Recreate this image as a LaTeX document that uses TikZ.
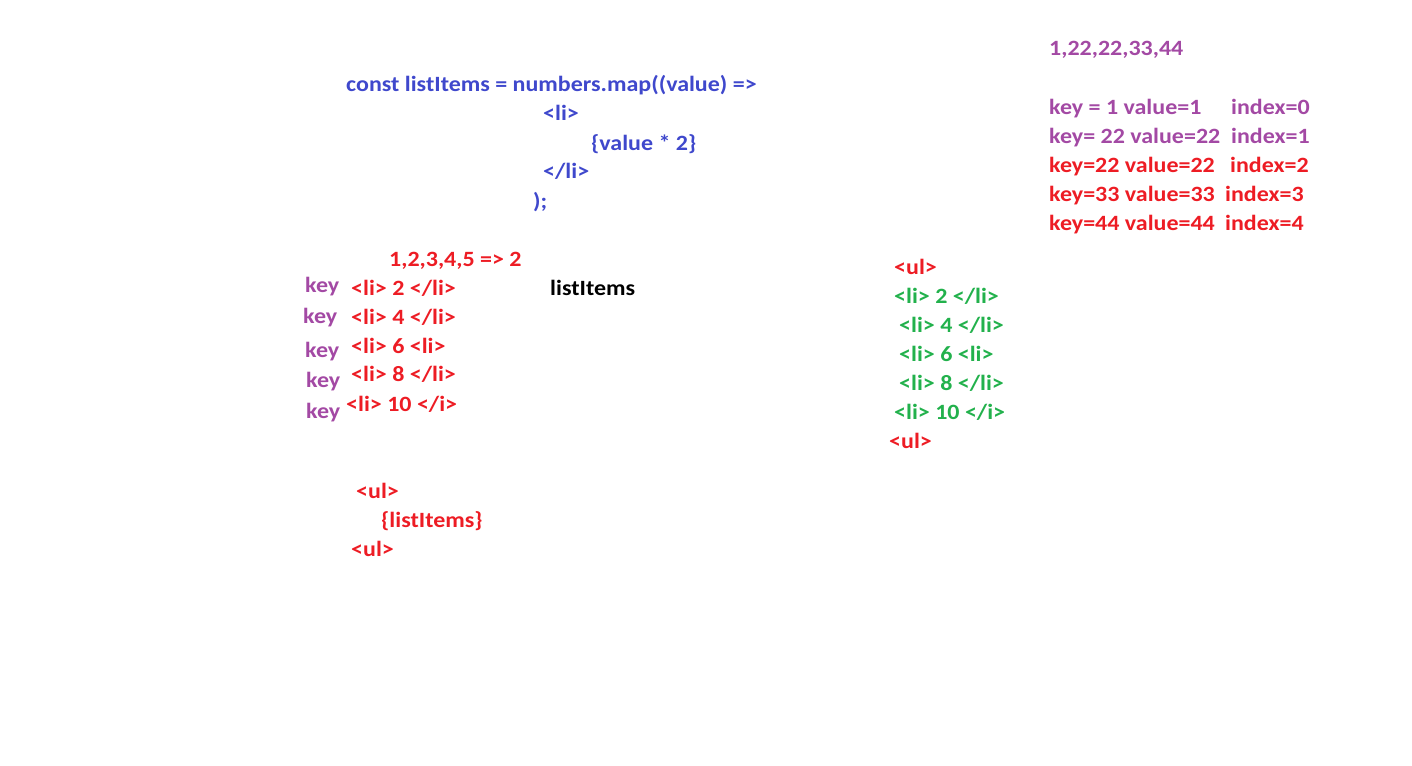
\documentclass[tikz,border=0pt]{standalone}
\usepackage{fontspec}
\setmainfont{Carlito}[FakeStretch=1.1]
\definecolor{cblue}{HTML}{3F48CC}
\definecolor{cred}{HTML}{ED1C24}
\definecolor{cpurple}{HTML}{A349A4}
\definecolor{cgreen}{HTML}{22B14C}
\begin{document}
\begin{tikzpicture}[x=1pt,y=-1pt,
  t/.style={anchor=base west,inner sep=0pt,font=\fontsize{21.8}{26}\selectfont\bfseries},
  bl/.style={t,text=cblue},
  rd/.style={t,text=cred},
  pu/.style={t,text=cpurple},
  gr/.style={t,text=cgreen},
  bk/.style={t,text=black}]
\useasboundingbox (0,0) rectangle (1412,765);
% code
\node[bl] (c1) at (346,92) {const listItems = numbers.map((value) =>};
\node[bl] (c2) at (543,121) {<li>};
\node[bl] (c3) at (591,150) {\{value * 2\}};
\node[bl] (c4) at (543,178) {</li>};
\node[bl] (c5) at (533,208) {);};
% left list
\node[rd] (nums) at (389,266) {1,2,3,4,5 => 2};
\node[pu] (k1) at (305,292) {key};
\node[pu] (k2) at (303,323) {key};
\node[pu] (k3) at (305,357) {key};
\node[pu] (k4) at (306,387) {key};
\node[pu] (k5) at (306,418) {key};
\node[rd] (l1) at (351,295) {<li> 2 </li>};
\node[rd] (l2) at (351,324) {<li> 4 </li>};
\node[rd] (l3) at (351,353) {<li> 6 <li>};
\node[rd] (l4) at (351,381) {<li> 8 </li>};
\node[rd] (l5) at (346,411) {<li> 10 </i>};
\node[bk] (li) at (550,295) {listItems};
\node[rd] (u1) at (356,498) {<ul>};
\node[rd] (u2) at (381,527) {\{listItems\}};
\node[rd] (u3) at (351,556) {<ul>};
% right list
\node[rd] (r0) at (894,274) {<ul>};
\node[gr] (r1) at (894,303) {<li> 2 </li>};
\node[gr] (r2) at (899,332) {<li> 4 </li>};
\node[gr] (r3) at (899,361) {<li> 6 <li>};
\node[gr] (r4) at (899,390) {<li> 8 </li>};
\node[gr] (r5) at (894,419) {<li> 10 </i>};
\node[rd] (r6) at (889,448) {<ul>};
% top right
\node[pu] (arr) at (1049,56) {1,22,22,33,44};
\node[pu] (a1) at (1049,114) {key = 1 value=1};
\node[pu] (i1) at (1231,114) {index=0};
\node[pu] (a2) at (1049,143) {key= 22 value=22};
\node[pu] (i2) at (1231,143) {index=1};
\node[rd] (a3) at (1049,172) {key=22 value=22};
\node[rd] (i3) at (1230,172) {index=2};
\node[rd] (a4) at (1049,201) {key=33 value=33};
\node[rd] (i4) at (1225,201) {index=3};
\node[rd] (a5) at (1049,230) {key=44 value=44};
\node[rd] (i5) at (1225,230) {index=4};
\end{tikzpicture}
\end{document}
